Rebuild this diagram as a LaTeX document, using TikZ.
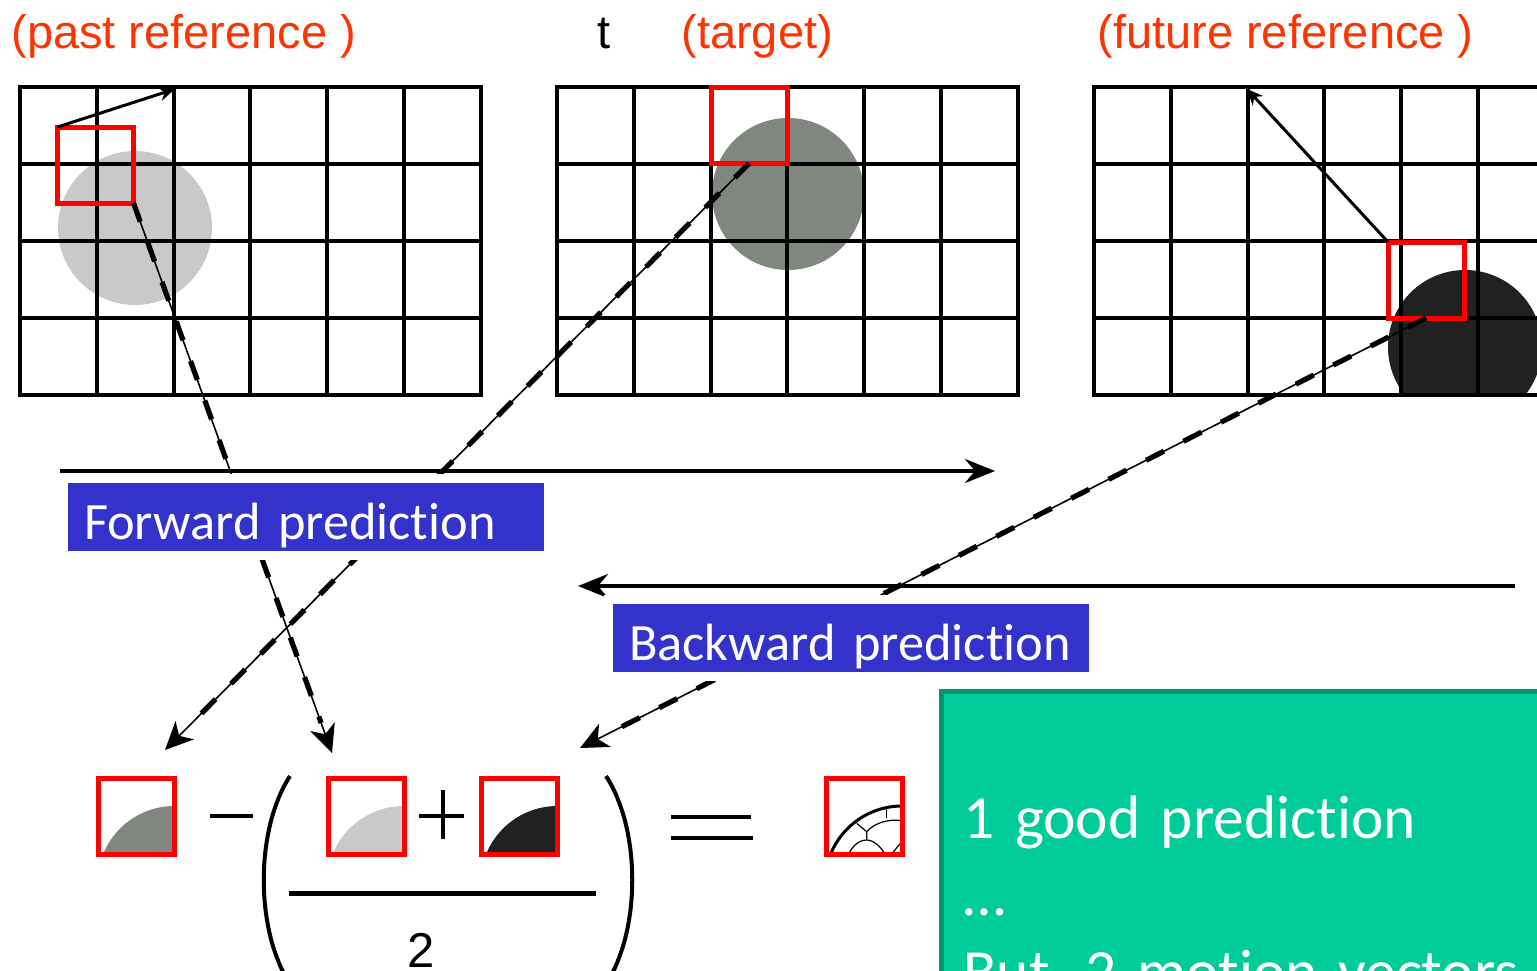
\documentclass[tikz,border=0pt]{standalone}
\usepackage{fontspec}
\usepackage{tikz}
\usetikzlibrary{arrows.meta,positioning}
\newfontfamily\headfont{Liberation Sans}
\newfontfamily\calfont[Ligatures=NoCommon]{Carlito}
\definecolor{headred}{RGB}{255,51,0}
\definecolor{boxred}{RGB}{255,0,0}
\definecolor{boxblue}{RGB}{51,51,204}
\definecolor{sheetgreen}{RGB}{0,204,153}
\definecolor{sheetedge}{RGB}{0,150,112}
\definecolor{lightdisc}{RGB}{200,201,200}
\definecolor{middisc}{RGB}{128,135,127}
\definecolor{darkdisc}{RGB}{33,33,33}

\begin{document}
\begin{tikzpicture}[
		x=0.5pt, y=-0.5pt,
		gridline/.style={line width=2pt},
		head/.style={anchor=base west, inner sep=0pt, text=headred, font=\headfont\fontsize{23.5pt}{28pt}\selectfont},
		block/.style={draw=boxred, line width=2.5pt, minimum size=38pt, inner sep=0pt, outer sep=0pt},
		tag/.style={anchor=north west, fill=boxblue, text=white, align=left, text width=222pt, inner xsep=8pt, inner ysep=1.5pt, text height=26.5pt, text depth=4.5pt, outer sep=0pt, font=\calfont\fontsize{26.2pt}{31pt}\selectfont, preaction={draw=white, line width=9pt}},
		note/.style={anchor=north west, fill=sheetgreen, draw=sheetedge, line width=2.5pt, text=white, align=left, text width=316pt, inner xsep=11pt, inner ysep=0pt, outer sep=0pt, font=\calfont\fontsize{30.7pt}{38.5pt}\selectfont},
		axis/.style={line width=2pt, -{Stealth[length=15pt, width=12pt, inset=5pt]}},
		motion/.style={line width=1.5pt, -{Stealth[length=8pt, width=7pt]}},
		pred/.style={line width=0.8pt, -{Stealth[length=14pt, width=13pt, inset=4pt]}, postaction={draw, -, line width=2.6pt, dash pattern=on 10pt off 11pt, shorten >=16pt}},
		op/.style={line width=2pt}
	]
		\useasboundingbox (0,0) rectangle (1537,970);
		\clip (0,0) rectangle (1537,970);

		\fill[lightdisc] (135,228) circle (77);
		\fill[middisc] (788,194) circle (76);
		\begin{scope}
			\clip (1094,87) rectangle ++(461,308);
			\fill[darkdisc] (1465,347) circle (77);
		\end{scope}
		\foreach \gx in {20,557,1094} {
			\draw[gridline] (\gx,87) rectangle ++(461,308);
			\foreach \i in {1,...,5} \draw[gridline] (\gx+\i*76.8,87) -- ++(0,308);
			\foreach \j in {1,2,3} \draw[gridline] (\gx,87+\j*77) -- ++(461,0);
		}

		\node[block] (pastblk) at (95.5,165) {};
		\node[block] (tgtblk) at (749,125.5) {};
		\node[block] (futblk) at (1426,280) {};

		\node[head] (pastlbl) at (11,48) {(past reference )};
		\node[head, text=black] (tlbl) at (597,48) {t};
		\node[head] (tgtlbl) at (681,48) {(target)};
		\node[head] (futlbl) at (1097,48) {(future reference )};

		\coordinate (pastmv) at (175,89);
		\coordinate (futmv) at (1247,89);
		\coordinate (fwdstart) at (60,471);
		\coordinate (fwdend) at (995,471);
		\coordinate (bwdstart) at (1515,586);
		\coordinate (bwdend) at (578,586);
		\coordinate (pasttip) at (332,753);
		\coordinate (tgttip) at (165,750);
		\coordinate (futtip) at (580,748);

		\draw[motion] (pastblk.north west) -- (pastmv);
		\draw[motion] (futblk.north west) -- (futmv);
		\draw[axis] (fwdstart) -- (fwdend);
		\draw[axis] (bwdstart) -- (bwdend);
		\draw[pred] (pastblk.south east) -- (pasttip);
		\draw[pred] (tgtblk.south) -- (tgttip);
		\draw[pred] (futblk.south) -- (futtip);

		\node[tag] (fwdtag) at (68,483) {Forward prediction};
		\node[tag] (bwdtag) at (613,604) {Backward prediction};

		\foreach \cx/\disc/\name in {136.5/middisc/predtgt, 366/lightdisc/predpast, 519.5/darkdisc/predfut} {
			\begin{scope}
				\clip (\cx-38,778) rectangle (\cx+38,854);
				\fill[\disc] (\cx+38,883) circle (77);
			\end{scope}
			\node[block] (\name) at (\cx,816) {};
		}
		\draw[op] (210,816) -- (253,816);
		\draw[op] (290,776) .. controls (255,830) and (255,930) .. (290,984);
		\draw[op] (419,816) -- (464,816);
		\draw[op] (443,790) -- (443,839);
		\draw[line width=2.5pt] (289,893) -- (596,893);
		\node[anchor=base, inner sep=0pt, font=\headfont\fontsize{24.5pt}{28pt}\selectfont] (two) at (421,967) {2};
		\draw[op] (606,776) .. controls (641,830) and (641,930) .. (606,984);
		\draw[op] (671,817) -- (751,817);
		\draw[op] (671,838) -- (753,838);

		\begin{scope}
			\clip (826,778) rectangle (902,854);
			\draw[line width=1.5pt] (902,883) circle (77);
			\draw[line width=0.6pt] (856.7,823.3) -- (866.7,831.7) -- (866.7,840);
			\draw[line width=0.6pt] (848,856) .. controls (852,845) and (860,840) .. (866.7,840) .. controls (873,840) and (881,846) .. (886,856);
			\draw[line width=0.6pt] (866.7,831.7) .. controls (874,823) and (890,818) .. (903,821);
			\draw[line width=0.6pt] (886.7,808) -- (886.7,818);
			\draw[line width=0.6pt] (903,840) -- (890,856);
		\end{scope}
		\node[block] (result) at (864,816) {};

		\node[note] (summary) at (941.5,691.5) {\rule{0pt}{73.25pt}1 good prediction\\…\\But, 2 motion vectors};
	\end{tikzpicture}
\end{document}
